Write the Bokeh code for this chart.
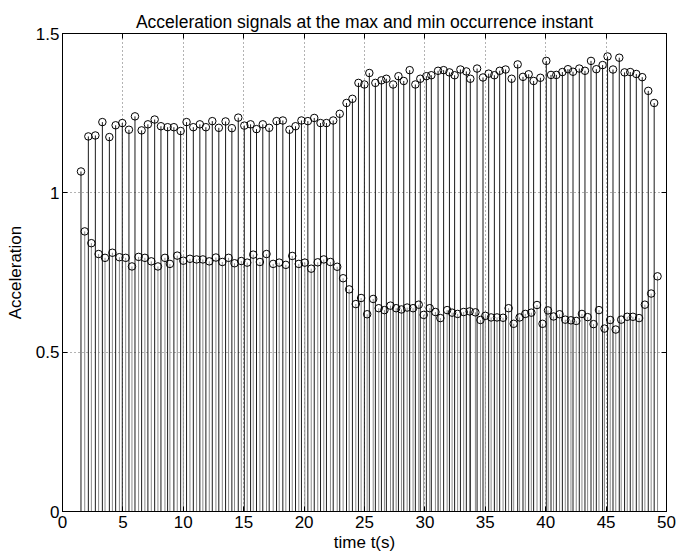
from bokeh.plotting import figure
from bokeh.models import Range1d, LinearAxis, FixedTicker, ColumnDataSource
from bokeh.embed import file_html
from bokeh.resources import INLINE

# ---- data ----
max_t = [1.53, 2.14, 2.72, 3.30, 3.88, 4.40, 4.95, 5.50, 6.00, 6.55, 7.07, 7.63, 8.15, 8.70,
         9.22, 9.78, 10.27, 10.83, 11.37, 11.87, 12.40, 12.94, 13.50, 14.02, 14.55, 15.05, 15.57, 16.06, 16.58, 17.11,
         17.72, 18.24, 18.79, 19.29, 19.78, 20.31, 20.84, 21.36, 21.85, 22.41, 22.95, 23.51, 24.00, 24.50, 24.99, 25.40,
         25.90, 26.40, 26.81, 27.37, 27.81, 28.25, 28.74, 29.21, 29.62, 30.12, 30.53, 31.09, 31.55, 32.03, 32.46, 32.94, 33.43, 33.76,
         34.32, 34.81, 35.28, 35.75, 36.19, 36.68, 37.18, 37.68, 38.12, 38.59, 39.00, 39.56, 40.05, 40.44, 40.88, 41.38, 41.84,
         42.26, 42.78, 43.25, 43.75, 44.19, 44.71, 45.12, 45.57, 46.09, 46.53, 47.00, 47.50, 47.99, 48.49, 48.98]
max_a = [1.067, 1.177, 1.180, 1.222, 1.175, 1.212, 1.219, 1.198, 1.240, 1.196, 1.215, 1.230, 1.209, 1.206,
         1.206, 1.194, 1.222, 1.206, 1.215, 1.206, 1.225, 1.204, 1.224, 1.203, 1.236, 1.211, 1.215, 1.200, 1.215, 1.204,
         1.225, 1.227, 1.198, 1.209, 1.227, 1.225, 1.235, 1.219, 1.219, 1.227, 1.248, 1.282, 1.295, 1.345, 1.340, 1.376,
         1.345, 1.353, 1.358, 1.340, 1.366, 1.351, 1.385, 1.340, 1.358, 1.366, 1.369, 1.383, 1.385, 1.378, 1.369, 1.387, 1.381, 1.358,
         1.390, 1.362, 1.374, 1.369, 1.383, 1.387, 1.358, 1.403, 1.364, 1.372, 1.351, 1.361, 1.414, 1.370, 1.370, 1.379, 1.388,
         1.380, 1.390, 1.383, 1.414, 1.388, 1.401, 1.428, 1.387, 1.424, 1.378, 1.379, 1.373, 1.363, 1.320, 1.282]

min_t = [1.84, 2.39, 2.99, 3.52, 4.13, 4.71, 5.23, 5.75, 6.30, 6.82, 7.35, 7.90, 8.48, 8.89,
         9.50, 10.00, 10.55, 11.10, 11.62, 12.15, 12.70, 13.23, 13.75, 14.24, 14.80, 15.29, 15.79, 16.34, 16.89,
         17.44, 17.94, 18.49, 19.02, 19.56, 20.06, 20.59, 21.13, 21.63, 22.18, 22.74, 23.23, 23.73, 24.28, 24.72, 25.22,
         25.72, 26.18, 26.65, 27.15, 27.62, 28.06, 28.53, 29.02, 29.49, 29.90, 30.40, 30.87, 31.28, 31.84, 32.25, 32.71, 33.21, 33.71,
         34.18, 34.60, 35.00, 35.48, 35.97, 36.47, 36.93, 37.35, 37.84, 38.31, 38.81, 39.28, 39.74, 40.19, 40.65, 41.15, 41.62,
         42.09, 42.53, 43.00, 43.47, 43.96, 44.41, 44.87, 45.34, 45.80, 46.25, 46.75, 47.22, 47.73, 48.21, 48.73, 49.26]
min_a = [0.879, 0.842, 0.808, 0.796, 0.812, 0.798, 0.796, 0.769, 0.799, 0.796, 0.785, 0.769, 0.796, 0.777,
         0.803, 0.787, 0.793, 0.791, 0.791, 0.785, 0.797, 0.783, 0.796, 0.779, 0.786, 0.781, 0.806, 0.783, 0.808,
         0.777, 0.781, 0.774, 0.802, 0.777, 0.781, 0.762, 0.782, 0.791, 0.783, 0.768, 0.732, 0.697, 0.651, 0.670, 0.619,
         0.667, 0.638, 0.632, 0.646, 0.638, 0.634, 0.640, 0.638, 0.649, 0.617, 0.638, 0.626, 0.607, 0.632, 0.624, 0.620, 0.626, 0.628,
         0.625, 0.601, 0.614, 0.609, 0.609, 0.608, 0.638, 0.589, 0.609, 0.620, 0.624, 0.648, 0.589, 0.631, 0.612, 0.619, 0.602,
         0.600, 0.598, 0.620, 0.610, 0.588, 0.632, 0.574, 0.601, 0.571, 0.602, 0.611, 0.611, 0.607, 0.649, 0.684, 0.738]

x_ticks = [0, 5, 10, 15, 20, 25, 30, 35, 40, 45, 50]
y_ticks = [0, 0.5, 1, 1.5]
y_tick_labels = {0: "0", 0.5: "0.5", 1: "1", 1.5: "1.5"}

title_text = "Acceleration signals at the max and min occurrence instant"
x_label = "time t(s)"
y_label = "Acceleration"

FONT = "Liberation Sans"
FS = "17px"

max_src = ColumnDataSource(dict(t=max_t, a=max_a, z=[0] * len(max_t)))
min_src = ColumnDataSource(dict(t=min_t, a=min_a, z=[0] * len(min_t)))

p = figure(width=676, height=557, output_backend="svg", toolbar_location=None,
           x_range=Range1d(0, 50), y_range=Range1d(0, 1.5), title=title_text)
p.min_border_left = 62
p.min_border_right = 10
p.min_border_top = 33
p.min_border_bottom = 46
p.background_fill_color = "white"
p.border_fill_color = "white"
p.outline_line_color = "black"
p.outline_line_width = 1

p.title.text_font = FONT
p.title.text_font_size = "17.5px"
p.title.text_font_style = "normal"
p.title.text_color = "black"
p.title.align = "center"
p.title.offset = 0
p.title.standoff = 4

# stems
p.segment(x0="t", y0="z", x1="t", y1="a", source=min_src, line_color="#8a8a8a", line_width=1)
p.segment(x0="t", y0="z", x1="t", y1="a", source=max_src, line_color="#1a1a1a", line_width=1)
# markers (open circles, as in a MATLAB stem plot)
p.scatter(x="t", y="a", source=min_src, marker="circle", size=7.5, fill_color=None,
          line_color="black", line_width=1)
p.scatter(x="t", y="a", source=max_src, marker="circle", size=7.5, fill_color=None,
          line_color="black", line_width=1)

for ax in (p.xaxis[0], p.yaxis[0]):
    ax.major_label_text_font = FONT
    ax.major_label_text_font_size = FS
    ax.axis_label_text_font = FONT
    ax.axis_label_text_font_size = FS
    ax.axis_label_text_font_style = "normal"
    ax.axis_label_text_color = "black"
    ax.major_tick_in = 5
    ax.major_tick_out = 0
    ax.minor_tick_line_color = None
    ax.axis_line_color = "black"
    ax.major_tick_line_color = "black"
    ax.major_label_text_color = "black"

p.xaxis[0].ticker = FixedTicker(ticks=x_ticks)
p.yaxis[0].ticker = FixedTicker(ticks=y_ticks)
p.yaxis[0].major_label_overrides = y_tick_labels
p.xaxis[0].axis_label = x_label
p.yaxis[0].axis_label = y_label
p.xaxis[0].major_label_standoff = 4
p.xaxis[0].axis_label_standoff = 2
p.yaxis[0].major_label_standoff = 3
p.yaxis[0].axis_label_standoff = 8

# plain tick marks on the top and right sides of the box (no labels)
for loc, ticks in (("above", x_ticks), ("right", y_ticks)):
    ax = LinearAxis(ticker=FixedTicker(ticks=ticks))
    ax.major_label_text_color = None
    ax.major_label_text_font_size = "1px"
    ax.major_label_standoff = 0
    ax.major_tick_in = 5
    ax.major_tick_out = 0
    ax.minor_tick_line_color = None
    ax.axis_line_color = "black"
    ax.major_tick_line_color = "black"
    p.add_layout(ax, loc)

p.xgrid.ticker = FixedTicker(ticks=x_ticks)
p.ygrid.ticker = FixedTicker(ticks=y_ticks)
for g in (p.xgrid[0], p.ygrid[0]):
    g.grid_line_color = "black"
    g.grid_line_dash = "1 3"
    g.grid_line_alpha = 0.6

open("out.html", "w").write(file_html(p, INLINE))
